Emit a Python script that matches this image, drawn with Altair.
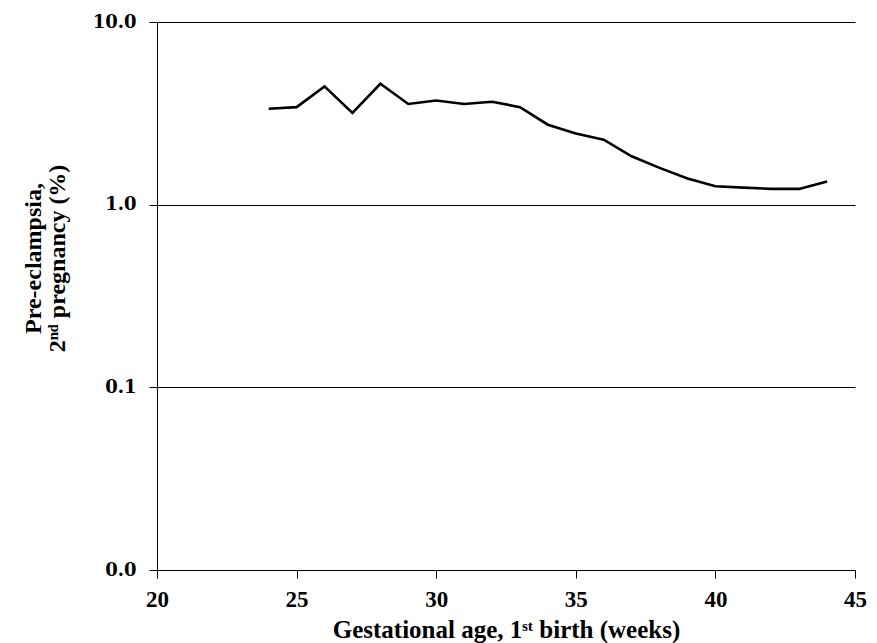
import altair as alt
import pandas as pd

weeks = [24, 25, 26, 27, 28, 29, 30, 31, 32, 33, 34, 35, 36, 37, 38, 39, 40, 41, 42, 43, 44]
rate = [3.35, 3.42, 4.44, 3.18, 4.59, 3.56, 3.72, 3.56, 3.66, 3.42, 2.74, 2.45,
        2.27, 1.84, 1.59, 1.39, 1.26, 1.24, 1.22, 1.22, 1.34]
x_ticks = [20, 25, 30, 35, 40, 45]
y_ticks = [0.01, 0.1, 1, 10]

df = pd.DataFrame({"week": weeks, "rate": rate})

chart = alt.Chart(df).mark_line(color="black", strokeWidth=2.6).encode(
    x=alt.X(
        "week:Q",
        scale=alt.Scale(domain=[20, 45], nice=False, zero=False),
        axis=alt.Axis(
            values=x_ticks,
            title="Gestational age, 1ˢᵗ birth (weeks)",
            grid=False,
            domainColor="black",
            domainWidth=1,
            tickColor="black",
            tickSize=8,
            labelFont="Liberation Serif",
            labelFontWeight="bold",
            labelFontSize=23,
            labelColor="black",
            labelPadding=10,
            labelFlush=False,
            titleFont="Liberation Serif",
            titleFontWeight="bold",
            titleFontSize=25,
            titleColor="black",
            titleBaseline="alphabetic",
            titleY=67,
        ),
    ),
    y=alt.Y(
        "rate:Q",
        scale=alt.Scale(type="log", domain=[0.01, 10], nice=False),
        axis=alt.Axis(
            values=y_ticks,
            labelExpr="datum.value < 0.05 ? '0.0' : format(datum.value, '.1f')",
            title=["Pre-eclampsia,", "2ⁿᵈ pregnancy (%)"],
            grid=True,
            gridColor="black",
            gridOpacity=1,
            gridWidth=1,
            domainColor="black",
            domainWidth=1,
            tickColor="black",
            tickSize=8,
            labelFont="DejaVu Serif",
            labelFontWeight="bold",
            labelFontSize=18,
            labelColor="black",
            labelPadding=13,
            labelFlush=False,
            titleFont="Liberation Serif",
            titleFontWeight="bold",
            titleFontSize=24,
            titleLineHeight=24,
            titleColor="black",
            titleBaseline="middle",
            titleX=-124,
            titleY=236,
        ),
    ),
).properties(
    width=698,
    height=548,
    autosize=alt.AutoSizeParams(type="none"),
    padding={"left": 149, "top": 14, "right": 14, "bottom": 73},
    background="white",
).configure_view(stroke=None)

chart.save("out.html", embed_options={"renderer": "svg", "actions": False})
